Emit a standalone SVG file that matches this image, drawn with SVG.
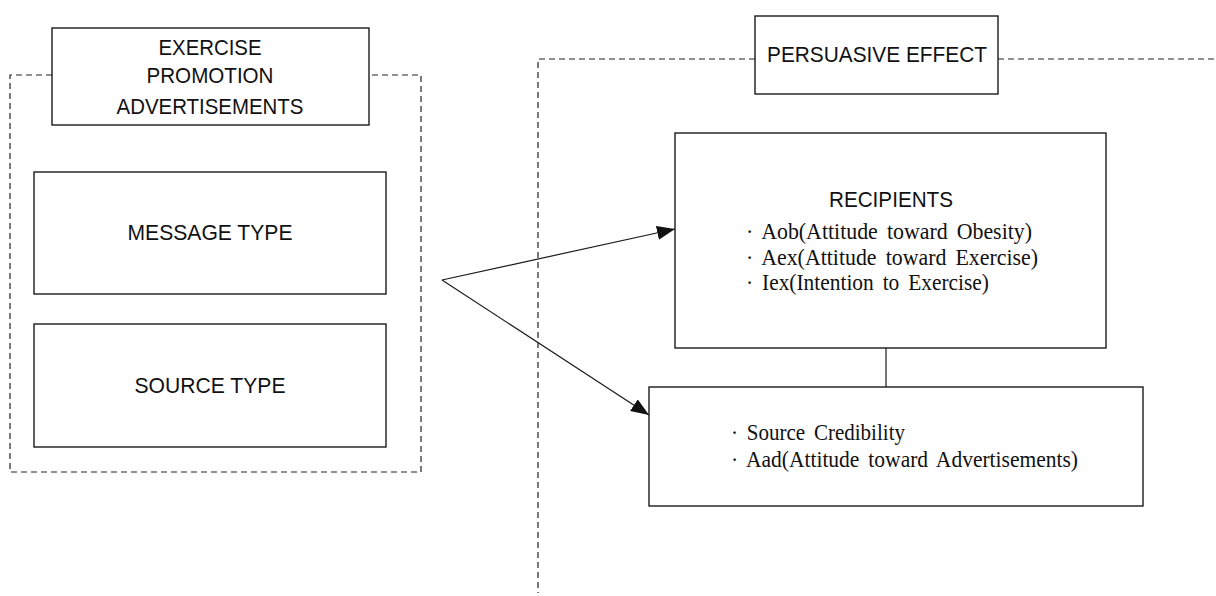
<svg xmlns="http://www.w3.org/2000/svg" width="1216" height="596" viewBox="0 0 1216 596">
<style>
  .box { fill: #fff; stroke: #1a1a1a; stroke-width: 1.4; }
  .dash { fill: none; stroke: #222; stroke-width: 1.2; stroke-dasharray: 6 4; }
  .line { fill: none; stroke: #1a1a1a; stroke-width: 1.2; }
  .sans { font-family: "Liberation Sans", Arial, sans-serif; font-size: 22px; fill: #111; text-anchor: middle; }
  .serif { font-family: "Liberation Serif", "Times New Roman", serif; font-size: 24px; fill: #111; word-spacing: 4px; }
</style>
<defs>
  <marker id="arrow" viewBox="0 0 18 14" refX="18" refY="7" markerWidth="18" markerHeight="14" markerUnits="userSpaceOnUse" orient="auto">
    <path d="M0,0 L18,7 L0,14 Z" fill="#111"/>
  </marker>
</defs>

<g id="groups">
  <path class="dash" d="M52,75 H10 V472 H421 V75 H369"/>
  <path class="dash" d="M755,59 H538 V593"/>
  <path class="dash" d="M998,59 H1216"/>
</g>

<g id="connectors">
  <line class="line" x1="442" y1="280" x2="675" y2="229" marker-end="url(#arrow)"/>
  <line class="line" x1="442" y1="280" x2="649" y2="415" marker-end="url(#arrow)"/>
  <line class="line" x1="886" y1="348" x2="886" y2="387"/>
</g>

<g id="exercise-promotion">
  <rect class="box" x="52" y="28" width="317" height="97"/>
  <text class="sans" x="210" y="55" textLength="103" lengthAdjust="spacingAndGlyphs">EXERCISE</text>
  <text class="sans" x="210" y="83" textLength="127" lengthAdjust="spacingAndGlyphs">PROMOTION</text>
  <text class="sans" x="210" y="114" textLength="187" lengthAdjust="spacingAndGlyphs">ADVERTISEMENTS</text>
</g>

<g id="message-type">
  <rect class="box" x="34" y="172" width="352" height="122"/>
  <text class="sans" x="210" y="240" textLength="165" lengthAdjust="spacingAndGlyphs">MESSAGE  TYPE</text>
</g>

<g id="source-type">
  <rect class="box" x="34" y="324" width="352" height="123"/>
  <text class="sans" x="210" y="393" textLength="151" lengthAdjust="spacingAndGlyphs">SOURCE  TYPE</text>
</g>

<g id="persuasive-effect">
  <rect class="box" x="755" y="16" width="243" height="78"/>
  <text class="sans" x="877" y="62" textLength="220" lengthAdjust="spacingAndGlyphs">PERSUASIVE  EFFECT</text>
</g>

<g id="recipients">
  <rect class="box" x="675" y="133" width="431" height="215"/>
  <text class="sans" x="891" y="207" textLength="124" lengthAdjust="spacingAndGlyphs">RECIPIENTS</text>
  <text class="serif" x="746" y="239" textLength="286" lengthAdjust="spacingAndGlyphs">· Aob(Attitude toward Obesity)</text>
  <text class="serif" x="746" y="265" textLength="292" lengthAdjust="spacingAndGlyphs">· Aex(Attitude toward Exercise)</text>
  <text class="serif" x="746" y="290" textLength="243" lengthAdjust="spacingAndGlyphs">· Iex(Intention to Exercise)</text>
</g>

<g id="source-ad">
  <rect class="box" x="649" y="387" width="494" height="119"/>
  <text class="serif" x="731" y="440" textLength="174" lengthAdjust="spacingAndGlyphs">· Source Credibility</text>
  <text class="serif" x="731" y="467" textLength="347" lengthAdjust="spacingAndGlyphs">· Aad(Attitude toward Advertisements)</text>
</g>
</svg>
